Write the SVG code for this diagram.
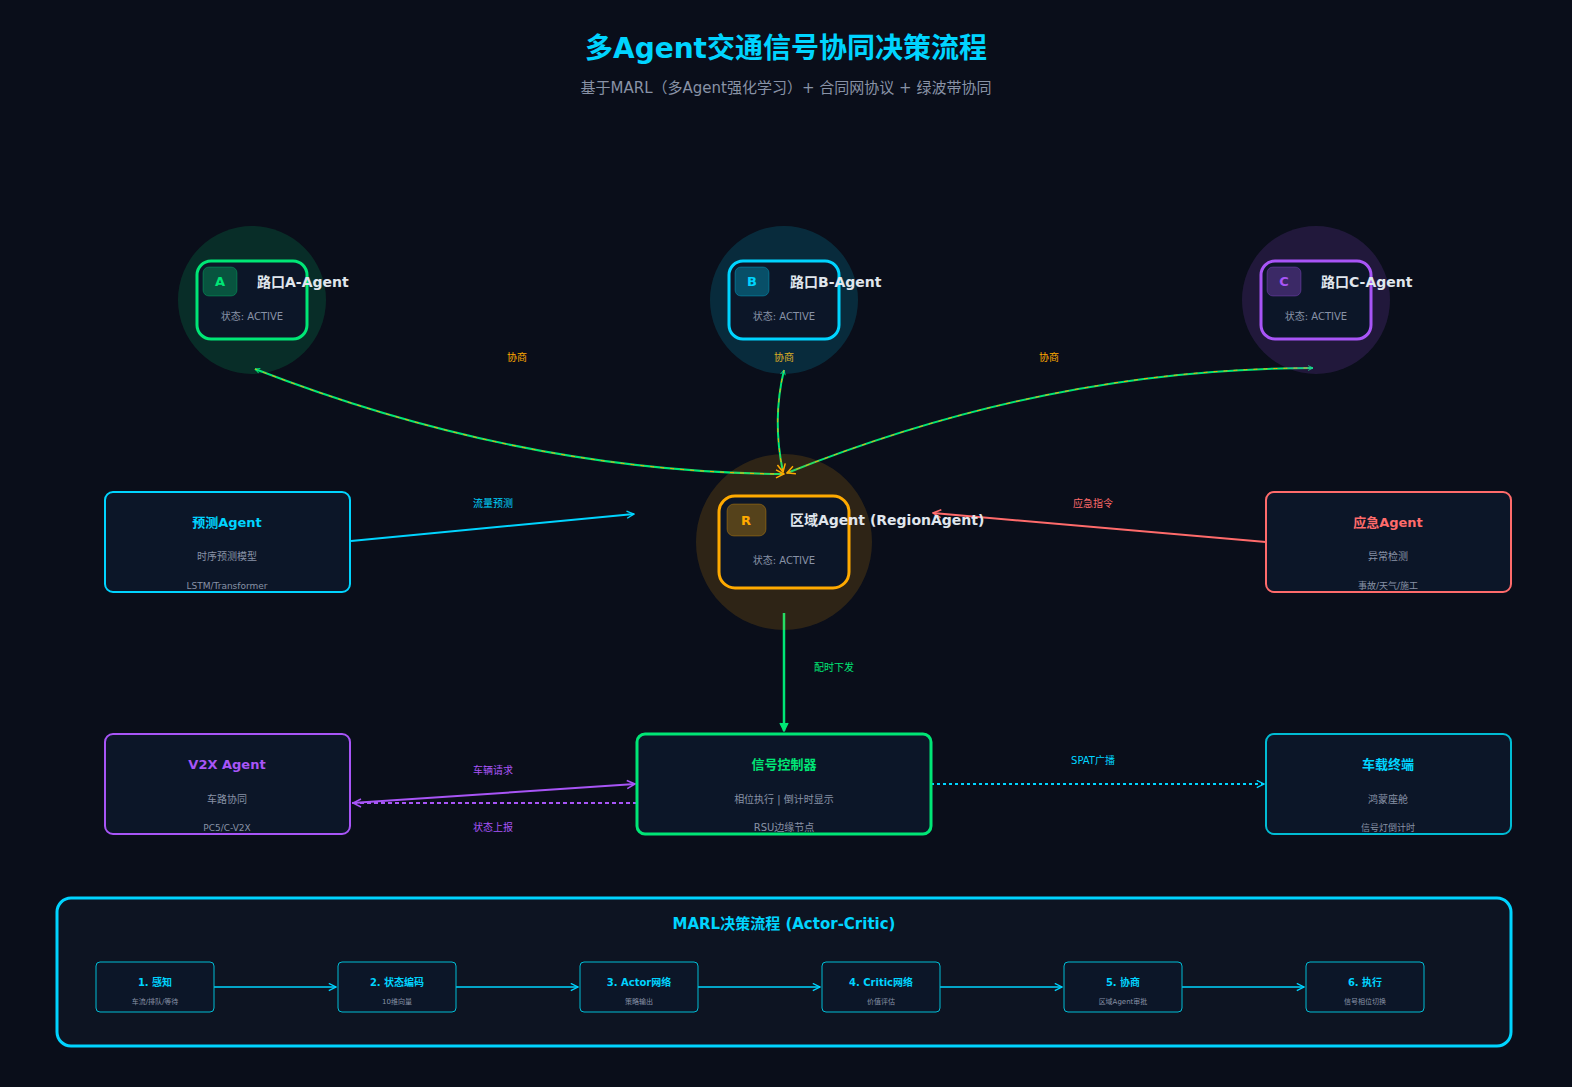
<svg xmlns="http://www.w3.org/2000/svg" width="1572" height="1087" viewBox="0 0 1572 1087">
<defs>
<style>
text{font-family:"DejaVu Sans","Noto Sans CJK SC",sans-serif}
.t{font-size:28px;font-weight:bold;fill:#00d4ff;text-anchor:middle}
.st{font-size:15px;fill:#8892a6;text-anchor:middle}
.box{fill:#0c1628;rx:8}
.lbl{font-size:14px;font-weight:bold;fill:#e0e6ed}
.stat{font-size:10px;fill:#8892a6;text-anchor:middle}
.badge{font-size:13px;font-weight:bold;text-anchor:middle}
.h{font-size:13px;font-weight:bold;text-anchor:middle}
.s1{font-size:10px;fill:#8892a6;text-anchor:middle}
.s2{font-size:9px;fill:#8892a6;text-anchor:middle}
.cl{font-size:10px;text-anchor:middle}
.step{fill:#0c1628;stroke:#00bcd4;stroke-width:1;rx:4}
.sh{font-size:10px;font-weight:bold;fill:#00d4ff;text-anchor:middle}
.ss{font-size:7px;fill:#8892a6;text-anchor:middle}
</style>
<marker id="mG" viewBox="0 0 10 10" refX="9" refY="5" markerWidth="6" markerHeight="6" orient="auto-start-reverse" markerUnits="userSpaceOnUse"><path d="M1,1 L9,5 L1,9" fill="none" stroke="#00e676" stroke-width="1.5"/></marker>
<marker id="mO" viewBox="0 0 10 10" refX="9" refY="5" markerWidth="10" markerHeight="10" orient="auto-start-reverse" markerUnits="userSpaceOnUse"><path d="M1,1 L9,5 L1,9" fill="none" stroke="#ffaa00" stroke-width="1.5"/></marker>
<marker id="mC" viewBox="0 0 10 10" refX="9" refY="5" markerWidth="9" markerHeight="9" orient="auto" markerUnits="userSpaceOnUse"><path d="M1,1 L9,5 L1,9" fill="none" stroke="#00d4ff" stroke-width="1.5"/></marker>
<marker id="mR" viewBox="0 0 10 10" refX="9" refY="5" markerWidth="10" markerHeight="10" orient="auto" markerUnits="userSpaceOnUse"><path d="M1,1 L9,5 L1,9" fill="none" stroke="#ff6b6b" stroke-width="1.5"/></marker>
<marker id="mGs" viewBox="0 0 10 10" refX="9" refY="5" markerWidth="10" markerHeight="10" orient="auto" markerUnits="userSpaceOnUse"><path d="M1,1 L9,5 L1,9" fill="#00e676" stroke="#00e676" stroke-width="1.5"/></marker>
<marker id="mP" viewBox="0 0 10 10" refX="9" refY="5" markerWidth="10" markerHeight="10" orient="auto" markerUnits="userSpaceOnUse"><path d="M1,1 L9,5 L1,9" fill="none" stroke="#a855f7" stroke-width="1.5"/></marker>
</defs>
<rect width="1572" height="1087" fill="#0a0e1a"/>
<text class="t" x="786" y="58">多Agent交通信号协同决策流程</text>
<text class="st" x="786" y="93">基于MARL（多Agent强化学习）+ 合同网协议 + 绿波带协同</text>

<g id="connectors">
  <g fill="none">
    <path d="M784,474 Q520,472 255,369" stroke="#00e676" stroke-width="2" marker-start="url(#mO)" marker-end="url(#mG)"/>
    <path d="M784,474 Q520,472 255,369" stroke="#ffaa00" stroke-width="1" stroke-dasharray="4 6"/>
    <path d="M783,472 Q772,420 784,370" stroke="#00e676" stroke-width="2" marker-start="url(#mO)" marker-end="url(#mG)"/>
    <path d="M783,472 Q772,420 784,370" stroke="#ffaa00" stroke-width="1" stroke-dasharray="4 6"/>
    <path d="M787,473 Q1050,368 1313,368" stroke="#00e676" stroke-width="2" marker-start="url(#mO)" marker-end="url(#mG)"/>
    <path d="M787,473 Q1050,368 1313,368" stroke="#ffaa00" stroke-width="1" stroke-dasharray="4 6"/>
    <line x1="351" y1="541" x2="634" y2="514" stroke="#00d4ff" stroke-width="2" marker-end="url(#mC)"/>
    <line x1="1266" y1="542" x2="933" y2="513" stroke="#ff6b6b" stroke-width="2" marker-end="url(#mR)"/>
    <line x1="784" y1="613" x2="784" y2="731" stroke="#00e676" stroke-width="2.5" marker-end="url(#mGs)"/>
    <line x1="352" y1="803" x2="635" y2="784" stroke="#a855f7" stroke-width="2" marker-end="url(#mP)"/>
    <line x1="637" y1="803" x2="353" y2="803" stroke="#a855f7" stroke-width="2" stroke-dasharray="4 3" marker-end="url(#mP)"/>
    <line x1="931" y1="784" x2="1264" y2="784" stroke="#00d4ff" stroke-width="2" stroke-dasharray="3 3" marker-end="url(#mC)"/>
  </g>
  <text class="cl" x="517" y="361" fill="#ffaa00">协商</text>
  <text class="cl" x="784" y="361" fill="#ffaa00">协商</text>
  <text class="cl" x="1049" y="361" fill="#ffaa00">协商</text>
  <text class="cl" x="493" y="507" fill="#00d4ff">流量预测</text>
  <text class="cl" x="1093" y="507" fill="#ff6b6b">应急指令</text>
  <text class="cl" x="834" y="671" fill="#00e676">配时下发</text>
  <text class="cl" x="493" y="774" fill="#a855f7">车辆请求</text>
  <text class="cl" x="493" y="831" fill="#a855f7">状态上报</text>
  <text class="cl" x="1093" y="764" fill="#00d4ff">SPAT广播</text>
</g>

<g id="agentA">
  <circle cx="252" cy="300" r="74" fill="#00e676" fill-opacity="0.15"/>
  <rect x="197" y="261" width="110" height="78" rx="14" fill="#0c1628" stroke="#00e676" stroke-width="3"/>
  <rect x="203" y="267" width="34" height="29" rx="6" fill="#00e676" fill-opacity="0.3" stroke="#00e676" stroke-opacity="0.3"/>
  <text class="badge" x="220" y="286" fill="#00e676">A</text>
  <text class="lbl" x="257" y="287">路口A-Agent</text>
  <text class="stat" x="252" y="320">状态: ACTIVE</text>
</g>
<g id="agentB">
  <circle cx="784" cy="300" r="74" fill="#00d4ff" fill-opacity="0.15"/>
  <rect x="729" y="261" width="110" height="78" rx="14" fill="#0c1628" stroke="#00d4ff" stroke-width="3"/>
  <rect x="735" y="267" width="34" height="29" rx="6" fill="#00d4ff" fill-opacity="0.3" stroke="#00d4ff" stroke-opacity="0.3"/>
  <text class="badge" x="752" y="286" fill="#00d4ff">B</text>
  <text class="lbl" x="790" y="287">路口B-Agent</text>
  <text class="stat" x="784" y="320">状态: ACTIVE</text>
</g>
<g id="agentC">
  <circle cx="1316" cy="300" r="74" fill="#a855f7" fill-opacity="0.15"/>
  <rect x="1261" y="261" width="110" height="78" rx="14" fill="#0c1628" stroke="#a855f7" stroke-width="3"/>
  <rect x="1267" y="267" width="34" height="29" rx="6" fill="#a855f7" fill-opacity="0.3" stroke="#a855f7" stroke-opacity="0.3"/>
  <text class="badge" x="1284" y="286" fill="#a855f7">C</text>
  <text class="lbl" x="1321" y="287">路口C-Agent</text>
  <text class="stat" x="1316" y="320">状态: ACTIVE</text>
</g>
<g id="regionAgent">
  <circle cx="784" cy="542" r="88" fill="#ffaa00" fill-opacity="0.15"/>
  <rect x="719" y="496" width="130" height="92" rx="16" fill="#0c1628" stroke="#ffaa00" stroke-width="3"/>
  <rect x="727" y="504" width="39" height="32" rx="7" fill="#ffaa00" fill-opacity="0.3" stroke="#ffaa00" stroke-opacity="0.3"/>
  <text class="badge" x="746" y="525" fill="#ffaa00">R</text>
  <text class="lbl" x="790" y="525">区域Agent (RegionAgent)</text>
  <text class="stat" x="784" y="564">状态: ACTIVE</text>
</g>
<g id="predictAgent">
  <rect x="105" y="492" width="245" height="100" rx="8" fill="#0c1628" stroke="#00d4ff" stroke-width="2"/>
  <text class="h" x="227" y="527" fill="#00d4ff">预测Agent</text>
  <text class="s1" x="227" y="560">时序预测模型</text>
  <text class="s2" x="227" y="589">LSTM/Transformer</text>
</g>
<g id="emergencyAgent">
  <rect x="1266" y="492" width="245" height="100" rx="8" fill="#0c1628" stroke="#ff6b6b" stroke-width="2"/>
  <text class="h" x="1388" y="527" fill="#ff6b6b">应急Agent</text>
  <text class="s1" x="1388" y="560">异常检测</text>
  <text class="s2" x="1388" y="589">事故/天气/施工</text>
</g>
<g id="v2xAgent">
  <rect x="105" y="734" width="245" height="100" rx="8" fill="#0c1628" stroke="#a855f7" stroke-width="2"/>
  <text class="h" x="227" y="769" fill="#a855f7">V2X Agent</text>
  <text class="s1" x="227" y="803">车路协同</text>
  <text class="s2" x="227" y="831">PC5/C-V2X</text>
</g>
<g id="signalController">
  <rect x="637" y="734" width="294" height="100" rx="8" fill="#0c1628" stroke="#00e676" stroke-width="3"/>
  <text class="h" x="784" y="769" fill="#00e676">信号控制器</text>
  <text class="s1" x="784" y="803">相位执行 | 倒计时显示</text>
  <text class="s1" x="784" y="831">RSU边缘节点</text>
</g>
<g id="vehicleTerminal">
  <rect x="1266" y="734" width="245" height="100" rx="8" fill="#0c1628" stroke="#00bcd4" stroke-width="2"/>
  <text class="h" x="1388" y="769" fill="#00d4ff">车载终端</text>
  <text class="s1" x="1388" y="803">鸿蒙座舱</text>
  <text class="s2" x="1388" y="831">信号灯倒计时</text>
</g>

<g id="marlPanel">
  <rect x="57" y="898" width="1454" height="148" rx="14" fill="#0d1422" stroke="#00d4ff" stroke-width="3"/>
  <text x="784" y="929" font-size="15" font-weight="bold" fill="#00d4ff" text-anchor="middle">MARL决策流程 (Actor-Critic)</text>
  <g fill="none" stroke="#00d4ff" stroke-width="1.5">
    <line x1="214" y1="987" x2="336" y2="987" marker-end="url(#mC)"/>
    <line x1="456" y1="987" x2="578" y2="987" marker-end="url(#mC)"/>
    <line x1="698" y1="987" x2="820" y2="987" marker-end="url(#mC)"/>
    <line x1="940" y1="987" x2="1062" y2="987" marker-end="url(#mC)"/>
    <line x1="1182" y1="987" x2="1304" y2="987" marker-end="url(#mC)"/>
  </g>
  <g id="step1"><rect class="step" x="96" y="962" width="118" height="50"/><text class="sh" x="155" y="986">1. 感知</text><text class="ss" x="155" y="1004">车流/排队/等待</text></g>
  <g id="step2"><rect class="step" x="338" y="962" width="118" height="50"/><text class="sh" x="397" y="986">2. 状态编码</text><text class="ss" x="397" y="1004">10维向量</text></g>
  <g id="step3"><rect class="step" x="580" y="962" width="118" height="50"/><text class="sh" x="639" y="986">3. Actor网络</text><text class="ss" x="639" y="1004">策略输出</text></g>
  <g id="step4"><rect class="step" x="822" y="962" width="118" height="50"/><text class="sh" x="881" y="986">4. Critic网络</text><text class="ss" x="881" y="1004">价值评估</text></g>
  <g id="step5"><rect class="step" x="1064" y="962" width="118" height="50"/><text class="sh" x="1123" y="986">5. 协商</text><text class="ss" x="1123" y="1004">区域Agent审批</text></g>
  <g id="step6"><rect class="step" x="1306" y="962" width="118" height="50"/><text class="sh" x="1365" y="986">6. 执行</text><text class="ss" x="1365" y="1004">信号相位切换</text></g>
</g>
</svg>
